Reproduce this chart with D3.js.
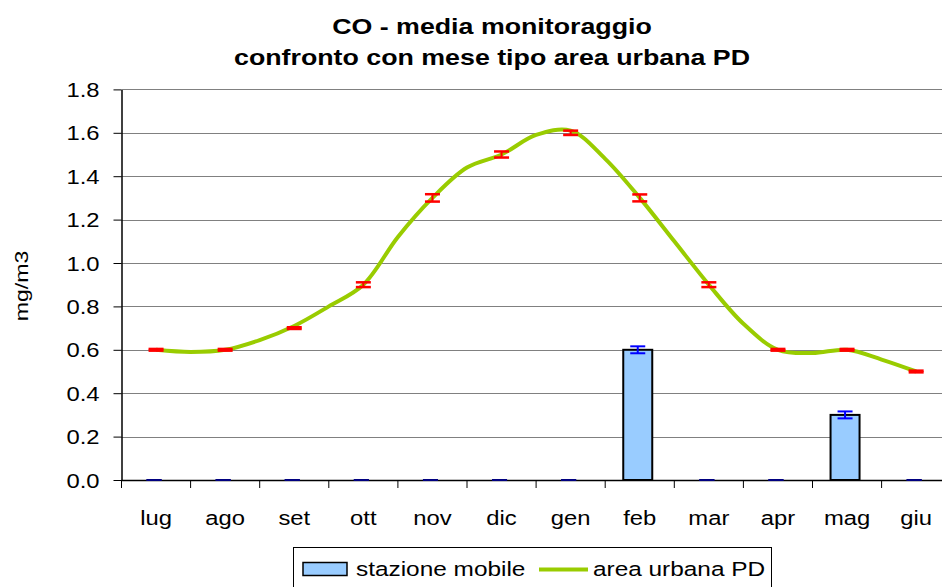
<!DOCTYPE html>
<html>
<head>
<meta charset="utf-8">
<script src="https://cdn.jsdelivr.net/npm/d3@7"></script>
<style>
  html, body { margin: 0; padding: 0; background: #fff; }
  svg { display: block; font-family: "Liberation Sans", Arial, sans-serif; }
</style>
</head>
<body>
<svg id="chart"></svg>
<script>
// CO - monthly mean, mobile station vs typical month (urban area PD)

const months = ['lug', 'ago', 'set', 'ott', 'nov', 'dic', 'gen', 'feb', 'mar', 'apr', 'mag', 'giu'];

// stazione mobile (bars) + error
const stazioneMobile = [0, 0, 0, 0, 0, 0, 0, 0.6, 0, 0, 0.3, 0];
const stazioneErr = [0, 0, 0, 0, 0, 0, 0, 0.016, 0, 0, 0.016, 0];

// mese tipo area urbana PD (red error markers)
const meseTipo = [0.6, 0.6, 0.7, 0.9, 1.3, 1.5, 1.6, 1.3, 0.9, 0.6, 0.6, 0.5];
const meseTipoErr = [0.004, 0.004, 0.004, 0.011, 0.017, 0.014, 0.01, 0.016, 0.011, 0.004, 0.004, 0.004];

// smoothed green line, sampled every half month (index in months)
const curvePos = [0, 0.5, 1, 1.5, 2, 2.5, 3, 3.5, 4, 4.5, 5, 5.5, 6, 6.5, 7, 7.5, 8, 8.5, 9, 9.5, 10, 10.5, 11];
const curveVal = [0.6, 0.59, 0.6, 0.645, 0.71, 0.8, 0.9, 1.12, 1.3, 1.44, 1.5, 1.59, 1.61, 1.48, 1.3, 1.1, 0.9, 0.72, 0.6, 0.585, 0.6, 0.555, 0.5];

const yTicks = [0, 0.2, 0.4, 0.6, 0.8, 1.0, 1.2, 1.4, 1.6, 1.8];

const width = 942, height = 587;
const SX = 1.19; // text is drawn a bit wider than plain Arial

const svg = d3.select('#chart').attr('width', width).attr('height', height);

const plot = { left: 121.5, top: 89.4, bottom: 480 };
const catW = 69.1;

const x = d3.scaleBand().domain(months).range([plot.left, plot.left + catW * months.length]);
const xi = d3.scaleLinear().domain([0, months.length - 1])
  .range([x(months[0]) + x.bandwidth() / 2, x(months[months.length - 1]) + x.bandwidth() / 2]);
const y = d3.scaleLinear().domain([0, 1.8]).range([plot.bottom, plot.top]);

// Title
const title = svg.append('g').attr('font-weight', 'bold').attr('font-size', '22.5px')
  .attr('text-anchor', 'middle').attr('fill', '#000');
title.append('text').attr('transform', `translate(492,34) scale(${SX},1)`).text('CO - media monitoraggio');
title.append('text').attr('transform', `translate(492,65) scale(${SX},1)`).text('confronto con mese tipo area urbana PD');

// Gridlines
svg.append('g').selectAll('line').data(yTicks.slice(1)).join('line')
  .attr('x1', plot.left).attr('x2', width)
  .attr('y1', d => Math.round(y(d)) + 0.5).attr('y2', d => Math.round(y(d)) + 0.5)
  .attr('stroke', '#808080').attr('stroke-width', 1.2);

// Bars
const barW = 29;
svg.append('g').selectAll('rect').data(stazioneMobile.map((v, i) => ({ m: months[i], v })).filter(d => d.v > 0))
  .join('rect')
  .attr('x', d => x(d.m) + x.bandwidth() / 2 - barW / 2 - 2)
  .attr('y', d => y(d.v))
  .attr('width', barW).attr('height', d => y(0) - y(d.v))
  .attr('fill', '#99ccff').attr('stroke', '#000').attr('stroke-width', 2);

// Green smoothed line
const line = d3.line().x((d, i) => xi(curvePos[i])).y(d => y(d)).curve(d3.curveCatmullRom.alpha(0.5));
svg.append('path').datum(curveVal).attr('d', line)
  .attr('fill', 'none').attr('stroke', '#99cc00').attr('stroke-width', 4)
  .attr('stroke-linejoin', 'round');

// Red error markers
const capW = 15;
const redErr = svg.append('g').attr('stroke', '#ff0000');
meseTipo.forEach((v, i) => {
  const cx = xi(i);
  const e = meseTipoErr[i];
  redErr.append('line').attr('x1', cx).attr('x2', cx).attr('y1', y(v + e)).attr('y2', y(v - e)).attr('stroke-width', 2);
  [v + e, v - e].forEach(val => {
    redErr.append('line').attr('x1', cx - capW / 2).attr('x2', cx + capW / 2)
      .attr('y1', y(val)).attr('y2', y(val)).attr('stroke-width', 2.5);
  });
});

// Y axis
const yAxis = svg.append('g').attr('transform', `translate(${plot.left},0)`)
  .call(d3.axisLeft(y).tickValues(yTicks).tickFormat(d3.format('.1f')).tickSize(8).tickSizeOuter(0));
yAxis.select('.domain').attr('stroke', '#000').attr('stroke-width', 1.5);
yAxis.selectAll('.tick line').attr('stroke', '#000');
yAxis.selectAll('.tick text')
  .attr('x', null).attr('dy', null)
  .attr('transform', `translate(-22,7) scale(${SX},1)`)
  .attr('fill', '#000').attr('font-size', '20px').attr('font-family', '"Liberation Sans", Arial, sans-serif');

// X axis
const xAxis = svg.append('g').attr('transform', `translate(0,${plot.bottom})`)
  .call(d3.axisBottom(x).tickSize(0).tickSizeOuter(0));
xAxis.select('.domain').attr('d', `M${plot.left},0.5H${width}`).attr('stroke', '#000').attr('stroke-width', 1.5);
xAxis.selectAll('.tick text')
  .attr('y', null).attr('dy', null)
  .attr('transform', `translate(0,45) scale(${SX},1)`)
  .attr('fill', '#000').attr('font-size', '20px').attr('font-family', '"Liberation Sans", Arial, sans-serif');
// category separator ticks
xAxis.append('g').selectAll('line').data(months.concat(['end'])).join('line')
  .attr('x1', (d, i) => plot.left + i * x.bandwidth()).attr('x2', (d, i) => plot.left + i * x.bandwidth())
  .attr('y1', 0).attr('y2', 8).attr('stroke', '#000');

// Blue error bars (drawn for every month, zero ones sit on the axis)
const blueErr = svg.append('g').attr('stroke-width', 2);
stazioneMobile.forEach((v, i) => {
  const cx = x(months[i]) + x.bandwidth() / 2 - 2;
  const e = stazioneErr[i];
  const col = v > 0 ? '#0000ff' : '#000080';
  blueErr.append('line').attr('x1', cx).attr('x2', cx).attr('y1', y(v + e)).attr('y2', y(v - e)).attr('stroke', col);
  [v + e, v - e].forEach(val => {
    blueErr.append('line').attr('x1', cx - capW / 2).attr('x2', cx + capW / 2)
      .attr('y1', y(Math.max(0, val))).attr('y2', y(Math.max(0, val))).attr('stroke', col);
  });
});

// Y axis label
svg.append('text')
  .attr('transform', `translate(28,286) rotate(-90) scale(1.25,1)`)
  .attr('text-anchor', 'middle').attr('font-size', '18.5px').attr('fill', '#000')
  .text('mg/m3');

// Legend
const lg = svg.append('g');
lg.append('rect').attr('x', 293.5).attr('y', 547.5).attr('width', 478).attr('height', 60)
  .attr('fill', '#fff').attr('stroke', '#000').attr('stroke-width', 1);
lg.append('rect').attr('x', 303).attr('y', 562.5).attr('width', 44).attr('height', 13)
  .attr('fill', '#99ccff').attr('stroke', '#000').attr('stroke-width', 1.5);
lg.append('text').attr('transform', `translate(356,576) scale(${SX},1)`)
  .attr('font-size', '20.5px').attr('fill', '#000').text('stazione mobile');
lg.append('line').attr('x1', 539).attr('x2', 588).attr('y1', 569.5).attr('y2', 569.5)
  .attr('stroke', '#99cc00').attr('stroke-width', 4);
lg.append('text').attr('transform', `translate(593,576) scale(${SX},1)`)
  .attr('font-size', '20.5px').attr('fill', '#000').text('area urbana PD');
</script>
</body>
</html>
